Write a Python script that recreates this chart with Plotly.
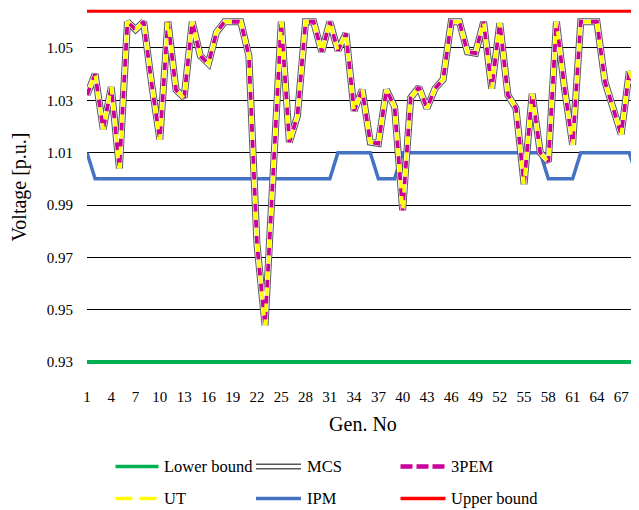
import plotly.graph_objects as go

# ---------------- data ----------------
gen_no = list(range(1, 70))

mcs = [1.032, 1.040, 1.019, 1.035, 1.004, 1.060, 1.057, 1.060, 1.036, 1.015,
       1.060, 1.034, 1.031, 1.060, 1.047, 1.044, 1.056, 1.060, 1.060, 1.060,
       1.047, 0.975, 0.944, 1.000, 1.060, 1.014, 1.024, 1.060, 1.060, 1.0485,
       1.060, 1.049, 1.0555, 1.026, 1.034, 1.014, 1.0135, 1.034, 1.0275, 0.988,
       1.031, 1.035, 1.027, 1.0345, 1.038, 1.060, 1.060, 1.0485, 1.048, 1.060,
       1.0345, 1.0595, 1.032, 1.027, 0.998, 1.0325, 1.010, 1.0065, 1.060, 1.0345,
       1.013, 1.060, 1.060, 1.060, 1.037, 1.027, 1.017, 1.041, 1.032]

pem3 = [1.032, 1.040, 1.019, 1.035, 1.004, 1.060, 1.057, 1.060, 1.036, 1.015,
        1.060, 1.034, 1.031, 1.060, 1.047, 1.044, 1.056, 1.060, 1.060, 1.060,
        1.047, 0.975, 0.944, 1.000, 1.060, 1.014, 1.024, 1.060, 1.060, 1.0485,
        1.060, 1.049, 1.0555, 1.026, 1.034, 1.014, 1.0135, 1.034, 1.0275, 0.988,
        1.031, 1.035, 1.027, 1.0345, 1.038, 1.060, 1.060, 1.0485, 1.048, 1.060,
        1.0345, 1.0595, 1.032, 1.027, 0.998, 1.0325, 1.010, 1.0065, 1.060, 1.0345,
        1.013, 1.060, 1.060, 1.060, 1.037, 1.027, 1.017, 1.041, 1.032]

ut = [1.032, 1.040, 1.019, 1.035, 1.004, 1.060, 1.057, 1.060, 1.036, 1.015,
      1.060, 1.034, 1.031, 1.060, 1.047, 1.044, 1.056, 1.060, 1.060, 1.060,
      1.047, 0.975, 0.944, 1.000, 1.060, 1.014, 1.024, 1.060, 1.060, 1.0485,
      1.060, 1.049, 1.0555, 1.026, 1.034, 1.014, 1.0135, 1.034, 1.0275, 0.988,
      1.031, 1.035, 1.027, 1.0345, 1.038, 1.060, 1.060, 1.0485, 1.048, 1.060,
      1.0345, 1.0595, 1.032, 1.027, 0.998, 1.0325, 1.010, 1.0065, 1.060, 1.0345,
      1.013, 1.060, 1.060, 1.060, 1.037, 1.027, 1.017, 1.041, 1.032]

ipm = [1.01] + [1.00] * 30 + [1.01] * 5 + [1.00] * 3 + [1.01] * 18 + [1.00] * 4 + [1.01] * 7 + [1.00]

lower_bound = 0.93
upper_bound = 1.064

x_tick_vals = list(range(1, 70, 3))
x_tick_text = [str(v) for v in x_tick_vals]
y_tick_vals = [0.93, 0.95, 0.97, 0.99, 1.01, 1.03, 1.05]
y_tick_text = ["0.93", "0.95", "0.97", "0.99", "1.01", "1.03", "1.05"]

legend_names = ["Lower bound", "MCS", "3PEM", "UT", "IPM", "Upper bound"]

# ---------------- styles ----------------
GREEN = "#00B050"
RED = "#FF0000"
BLUE = "#4472C4"
MAGENTA = "#CC0099"
YELLOW = "#FFFF00"
GREY = "#595959"
FONT = "Liberation Serif"

OFF = 8  # page body margin in the browser
W, H = 639 - OFF, 510 - OFF
ML, MR, MT = 87 - OFF, 0, 0
PLOT_H = 365.6 - OFF
MB = H - MT - PLOT_H
PLOT_W = W - ML - MR

fig = go.Figure()

# bounds
fig.add_trace(go.Scatter(x=[gen_no[0], gen_no[-1]], y=[lower_bound, lower_bound], mode="lines",
                         line=dict(color=GREEN, width=4), name=legend_names[0], showlegend=False))
fig.add_trace(go.Scatter(x=[gen_no[0], gen_no[-1]], y=[upper_bound, upper_bound], mode="lines",
                         line=dict(color=RED, width=3), name=legend_names[5], showlegend=False))
# IPM
fig.add_trace(go.Scatter(x=gen_no, y=ipm, mode="lines",
                         line=dict(color=BLUE, width=3.5), name=legend_names[4], showlegend=False))
# MCS (double line: grey outline + white core)
fig.add_trace(go.Scatter(x=gen_no, y=mcs, mode="lines",
                         line=dict(color=GREY, width=7), name=legend_names[1], showlegend=False))
fig.add_trace(go.Scatter(x=gen_no, y=mcs, mode="lines",
                         line=dict(color="white", width=5), name=legend_names[1], showlegend=False,
                         hoverinfo="skip"))
# 3PEM
fig.add_trace(go.Scatter(x=gen_no, y=pem3, mode="lines",
                         line=dict(color=MAGENTA, width=3.8, dash="8px,8px"), name=legend_names[2],
                         showlegend=False))
# UT
fig.add_trace(go.Scatter(x=gen_no, y=ut, mode="lines",
                         line=dict(color=YELLOW, width=3.5, dash="0px,8px,8px,0px"), name=legend_names[3],
                         showlegend=False))


def px_x(px):
    return (px - OFF - ML) / PLOT_W


def px_y(py):
    return (MT + PLOT_H - (py - OFF)) / PLOT_H


# manual legend (3 columns x 2 rows), positions in window pixels
legend_layout = [
    (115.5, 158.5, 162.0, 466, 0),
    (256.0, 301.0, 305.0, 466, 1),
    (400.5, 445.5, 448.5, 466, 2),
    (115.5, 158.5, 162.0, 498, 3),
    (256.0, 301.0, 305.0, 498, 4),
    (400.5, 445.5, 448.5, 498, 5),
]
sym_styles = {
    0: [dict(color=GREEN, width=3.5)],
    1: [dict(color=GREY, width=6), dict(color="white", width=3)],
    2: [dict(color=MAGENTA, width=4.5, dash="12px,4px")],
    3: [dict(color=YELLOW, width=3.5, dash="17px,7px")],
    4: [dict(color=BLUE, width=3.5)],
    5: [dict(color=RED, width=3.5)],
}
shapes = []
annotations = []
for x0, x1, tx, ty, idx in legend_layout:
    for st in sym_styles[idx]:
        shapes.append(dict(type="line", xref="paper", yref="paper",
                           x0=px_x(x0), x1=px_x(x1), y0=px_y(ty), y1=px_y(ty), line=st))
    annotations.append(dict(text=legend_names[idx], xref="paper", yref="paper",
                            x=px_x(tx), y=px_y(ty), xanchor="left", yanchor="middle",
                            showarrow=False, font=dict(family=FONT, size=16.5, color="black")))

# y range: 0.93 sits at window y=361.7, 2615 px per unit, plot top at window y=OFF
y_top = 0.93 + (361.7 - OFF) / 2615

fig.update_layout(
    width=W, height=H,
    margin=dict(l=ML, r=MR, t=MT, b=MB, pad=0),
    paper_bgcolor="white", plot_bgcolor="white",
    showlegend=False,
    shapes=shapes,
    annotations=annotations,
    font=dict(family=FONT, size=15, color="black"),
)
fig.update_xaxes(
    range=[1, 69.2], tickmode="array", tickvals=x_tick_vals, ticktext=x_tick_text,
    showgrid=False, zeroline=False, showline=False, ticks="",
    tickfont=dict(family=FONT, size=15, color="black"), ticklabelstandoff=20,
    title=dict(text="Gen. No", font=dict(family=FONT, size=20, color="black"), standoff=12),
)
fig.update_yaxes(
    range=[0.9285, y_top], tickmode="array", tickvals=y_tick_vals, ticktext=y_tick_text,
    showgrid=True, gridcolor="black", gridwidth=1.2, zeroline=False, showline=False, ticks="",
    tickfont=dict(family=FONT, size=15, color="black"), ticklabelstandoff=13,
    title=dict(text="Voltage [p.u.]", font=dict(family=FONT, size=20, color="black"), standoff=15),
)

fig.write_html("out.html")
